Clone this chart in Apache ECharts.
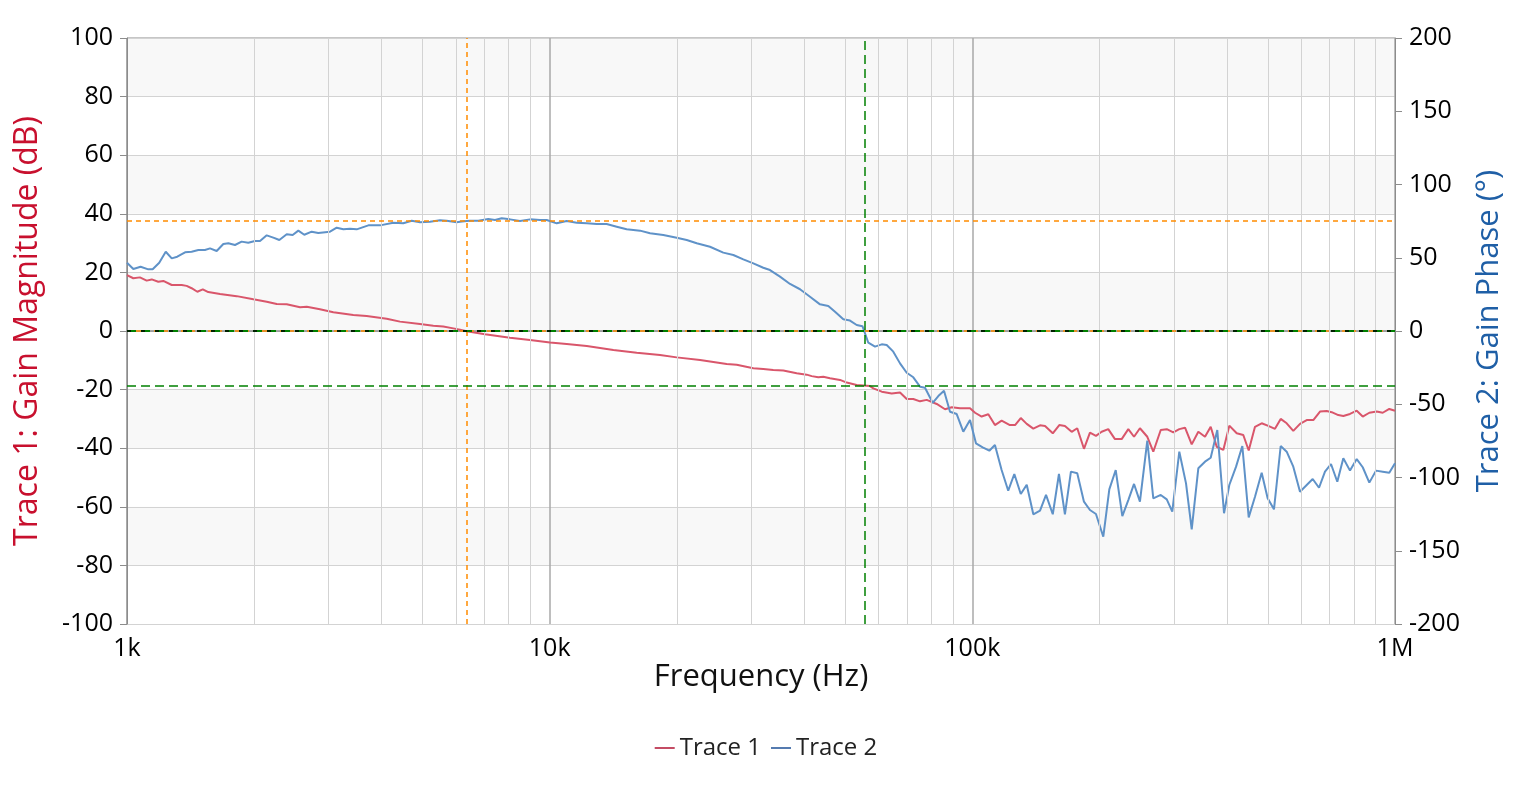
<!DOCTYPE html>
<html><head><meta charset="utf-8">
<script src="https://cdn.jsdelivr.net/npm/echarts@6/dist/echarts.min.js"></script>
<style>html,body{margin:0;padding:0;background:#fff}#chart{width:1532px;height:789px}</style>
</head><body><div id="chart"></div>
<script>
// ---- data ----
const gainFreqHz = [
 1000, 1035, 1073, 1113, 1144, 1186, 1219, 1276, 1347, 1384,
 1422, 1467, 1511, 1557, 1660, 1818, 1990, 2141, 2261, 2387,
 2567, 2663, 2861, 3077, 3431, 3690, 4116, 4425, 4934, 5305,
 5601, 5916, 6136, 6364, 7031, 8056, 8985, 10020, 10970, 12240,
 14150, 16070, 18240, 19980, 22690, 26230, 27700, 30330, 32020, 33810,
 35710, 38410, 40560, 41680, 43210, 44400, 46050, 48640, 50450, 53260,
 55210, 57270, 58310, 61050, 64450, 67440, 69940, 72500, 75200, 77980,
 82370, 86170, 89400, 93500, 98740, 101500, 105200, 109100, 113100, 117300,
 122700, 126200, 130200, 134500, 139400, 144600, 148600, 155000, 160600, 165600,
 171800, 177100, 183700, 189800, 196100, 202300, 209700, 217500, 225600, 233900,
 241300, 249200, 259400, 268000, 279100, 288400, 298900, 308800, 318600, 330400,
 342500, 355200, 366400, 378600, 392500, 405500, 422200, 437600, 450700, 466400,
 483700, 501400, 520000, 536500, 554300, 574600, 596000, 618200, 640800, 664600,
 689300, 708300, 734200, 754600, 782600, 811800, 838800, 869500, 905200, 935300,
 969400, 1000000
];
const gainDb = [
 19.1, 18.0, 18.3, 17.2, 17.6, 16.8, 17.1, 15.7, 15.7, 15.4,
 14.6, 13.4, 14.2, 13.3, 12.6, 11.9, 10.8, 10.0, 9.2, 9.1,
 8.1, 8.3, 7.4, 6.4, 5.5, 5.1, 4.2, 3.2, 2.4, 1.8,
 1.5, 0.9, 0.4, -0.1, -1.1, -2.3, -3.1, -3.9, -4.4, -5.1,
 -6.5, -7.4, -8.2, -9.0, -9.9, -11.3, -11.5, -12.7, -13.0, -13.3,
 -13.5, -14.4, -14.9, -15.4, -15.8, -15.6, -16.1, -16.7, -17.6, -18.4,
 -18.6, -18.8, -19.6, -20.7, -21.3, -21.0, -23.2, -23.2, -24.0, -23.5,
 -24.9, -26.7, -26.0, -26.4, -26.4, -27.9, -29.2, -28.4, -32.1, -30.6,
 -32.1, -32.1, -29.7, -31.7, -33.3, -32.2, -32.4, -34.9, -32.1, -32.4,
 -34.4, -33.2, -40.2, -34.7, -35.8, -34.4, -33.5, -36.9, -36.9, -33.5,
 -36.1, -33.2, -36.1, -41.2, -33.8, -33.5, -34.6, -33.5, -33.0, -38.7,
 -34.4, -36.1, -32.7, -39.5, -40.6, -32.3, -34.9, -35.5, -40.8, -32.7,
 -31.5, -32.4, -33.4, -30.0, -31.5, -34.1, -31.7, -30.4, -30.4, -27.5,
 -27.3, -27.7, -28.7, -29.0, -28.3, -27.2, -29.2, -27.9, -27.5, -27.9,
 -26.6, -27.2
];
const phaseFreqHz = [
 1000, 1035, 1077, 1123, 1150, 1192, 1235, 1276, 1315, 1372,
 1422, 1475, 1529, 1572, 1630, 1690, 1737, 1801, 1867, 1936,
 2008, 2064, 2141, 2219, 2293, 2387, 2466, 2543, 2627, 2735,
 2835, 3022, 3134, 3250, 3370, 3495, 3724, 3969, 4267, 4505,
 4716, 4934, 5211, 5502, 5705, 6026, 6136, 6364, 6479, 6780,
 7157, 7424, 7700, 8056, 8508, 8985, 9486, 9840, 10390, 10970,
 11590, 12240, 12920, 13640, 14410, 15210, 16360, 17280, 18570, 19980,
 21100, 22280, 23950, 25750, 27200, 28720, 30330, 32020, 33210, 35070,
 37040, 39110, 41300, 43610, 45630, 47330, 49520, 51350, 53260, 54960,
 56740, 58850, 61050, 62720, 65010, 67440, 69940, 72500, 75200, 77270,
 80580, 83090, 85700, 88560, 91840, 95190, 98740, 102000, 105800, 109700,
 113100, 117300, 121600, 125700, 130200, 134500, 139400, 144600, 149400, 155000,
 160300, 165600, 171100, 177100, 183700, 189800, 196100, 204100, 210900, 218400,
 226400, 233900, 241300, 249200, 259400, 268000, 279100, 288400, 297200, 308800,
 320300, 330400, 342500, 355200, 366400, 379800, 394000, 405500, 420700, 435300,
 450700, 466400, 483700, 499700, 517200, 536500, 554300, 574600, 596000, 618200,
 638700, 661000, 682900, 705600, 730300, 754600, 782600, 811800, 838800, 869500,
 901800, 935300, 969400, 1000000
];
const phaseDeg = [
 46.6, 42.3, 43.9, 42.1, 42.1, 46.6, 54.1, 49.6, 50.7, 53.7,
 54.1, 55.3, 55.3, 56.4, 54.6, 59.4, 59.9, 58.7, 61.0, 60.3,
 61.4, 61.4, 65.3, 63.7, 62.1, 66.0, 65.5, 68.5, 65.7, 67.8,
 66.9, 67.8, 70.5, 69.4, 69.8, 69.4, 72.1, 72.1, 73.9, 73.5,
 75.3, 74.2, 74.6, 75.6, 75.3, 74.2, 74.6, 75.1, 75.3, 75.3,
 76.5, 75.8, 76.9, 76.2, 75.1, 76.2, 75.8, 75.8, 73.5, 75.1,
 73.9, 73.5, 73.0, 73.0, 71.2, 69.4, 68.5, 66.7, 65.5, 63.7,
 62.1, 59.9, 57.5, 53.5, 51.9, 48.9, 46.2, 43.2, 41.6, 37.1,
 32.1, 28.5, 23.4, 18.2, 17.1, 13.2, 8.0, 7.1, 4.1, 3.3,
 -8.0, -10.7, -9.1, -9.6, -14.1, -22.1, -28.5, -31.6, -38.0, -38.7,
 -49.0, -44.4, -40.8, -55.1, -56.7, -68.7, -60.8, -76.7, -79.4, -81.7,
 -77.8, -94.9, -109.0, -97.6, -111.3, -104.9, -125.1, -122.6, -111.9, -125.1,
 -97.6, -125.1, -96.0, -97.1, -116.5, -122.2, -124.9, -140.4, -108.1, -94.9,
 -126.3, -115.4, -104.4, -116.5, -74.9, -114.2, -111.9, -114.9, -123.3, -82.4,
 -104.0, -135.4, -93.7, -89.2, -86.5, -67.6, -124.4, -105.1, -92.6, -78.5,
 -127.2, -113.1, -96.7, -114.2, -121.7, -78.5, -82.4, -92.6, -109.7, -105.1,
 -101.0, -107.0, -96.0, -90.8, -102.9, -86.9, -95.3, -87.4, -93.0, -103.5,
 -95.3, -96.0, -96.7, -90.3
];
// cursor markers
const gainCrossFreqHz = 6364;     // orange vertical (0 dB crossing)
const phaseAtGainCross = 75.4;    // orange horizontal (phase axis)
const phaseCrossFreqHz = 55500;   // green vertical (0 deg crossing)
const gainAtPhaseCross = -18.6;   // green horizontal (gain axis)
// axis ticks / labels
const freqTickLabels = {1000: '1k', 10000: '10k', 100000: '100k', 1000000: '1M'};
const minorGridFreqHz = [2000,3000,4000,5000,6000,7000,8000,9000,
  20000,30000,40000,50000,60000,70000,80000,90000,
  200000,300000,400000,500000,600000,700000,800000,900000];

// ---- chart ----
const FONT = '"Open Sans", "Noto Sans", "DejaVu Sans", sans-serif';
const pairs = (xs, ys) => xs.map((x, i) => [x, ys[i]]);
const chart = echarts.init(document.getElementById('chart'), null, {renderer: 'canvas'});
const orange = '#ff8c00', green = '#008000';
const option = {
  animation: false,
  textStyle: {fontFamily: FONT},
  grid: {left: 127, right: 137, top: 38, bottom: 165, show: true, borderColor: '#8c8c8c', borderWidth: 1},
  legend: {
    bottom: 24, left: 'center', itemWidth: 20, itemHeight: 1.5, itemGap: 10, icon: 'rect',
    textStyle: {fontSize: 24, color: '#222', fontFamily: FONT},
    data: [{name: 'Trace 1', itemStyle: {color: '#b01030'}}, {name: 'Trace 2', itemStyle: {color: '#1c4f96'}}]
  },
  xAxis: {
    type: 'log', logBase: 10, min: 1000, max: 1000000,
    name: 'Frequency (Hz)', nameLocation: 'middle', nameGap: 38, nameMoveOverlap: false,
    nameTextStyle: {fontSize: 31, color: '#111', fontFamily: FONT},
    axisLine: {show: true, lineStyle: {color: '#8c8c8c', width: 1.5}},
    axisTick: {show: false},
    axisLabel: {fontSize: 25, color: '#000', margin: 12, formatter: v => freqTickLabels[Math.round(v)] || ''},
    splitLine: {show: true, lineStyle: {color: '#a8a8a8', width: 1.5}}
  },
  yAxis: [{
    type: 'value', min: -100, max: 100, interval: 20, position: 'left',
    name: 'Trace 1: Gain Magnitude (dB)', nameLocation: 'middle', nameGap: 83,
    nameTextStyle: {fontSize: 32, color: '#c8102e', fontFamily: FONT},
    axisLine: {show: true, lineStyle: {color: '#8c8c8c'}},
    axisTick: {show: true, length: 7, lineStyle: {color: '#8c8c8c'}},
    axisLabel: {fontSize: 25, color: '#000', margin: 14},
    splitLine: {show: true, lineStyle: {color: '#d3d3d3'}},
    splitArea: {show: true, areaStyle: {color: ['#ffffff', '#f8f8f8']}}
  }, {
    type: 'value', min: -200, max: 200, interval: 50, position: 'right',
    name: 'Trace 2: Gain Phase (°)', nameLocation: 'middle', nameGap: 79,
    nameTextStyle: {fontSize: 31, color: '#1f5fa6', fontFamily: FONT},
    axisLine: {show: true, lineStyle: {color: '#8c8c8c'}},
    axisTick: {show: true, length: 7, lineStyle: {color: '#8c8c8c'}},
    axisLabel: {fontSize: 25, color: '#000', margin: 14},
    splitLine: {show: false}
  }],
  series: [
    {
      name: 'minor-grid', type: 'line', data: [], silent: true, z: 1,
      markLine: {silent: true, symbol: 'none', label: {show: false}, animation: false,
        lineStyle: {color: '#d3d3d3', width: 1, type: 'solid'},
        data: minorGridFreqHz.map(f => ({xAxis: f}))}
    },
    {
      name: 'Trace 1', type: 'line', yAxisIndex: 0, z: 3, showSymbol: false, symbol: 'none',
      data: pairs(gainFreqHz, gainDb),
      itemStyle: {color: '#b01030'},
      lineStyle: {color: '#d9566b', width: 2}
    },
    {
      name: 'Trace 2', type: 'line', yAxisIndex: 1, z: 3, showSymbol: false, symbol: 'none',
      data: pairs(phaseFreqHz, phaseDeg),
      itemStyle: {color: '#1c4f96'},
      lineStyle: {color: '#5f92c8', width: 2}
    },
    {
      name: 'markers-gain', type: 'line', yAxisIndex: 0, data: [], silent: true, z: 5,
      markLine: {silent: true, symbol: 'none', label: {show: false}, animation: false,
        data: [
          {xAxis: gainCrossFreqHz, lineStyle: {color: orange, width: 1.5, type: [5, 4]}},
          {yAxis: 0, lineStyle: {color: orange, width: 1.5, type: [5, 4]}},
          {xAxis: phaseCrossFreqHz, lineStyle: {color: green, width: 1.5, type: [9, 5]}},
          {yAxis: gainAtPhaseCross, lineStyle: {color: green, width: 1.5, type: [9, 5]}}
        ]}
    },
    {
      name: 'markers-phase', type: 'line', yAxisIndex: 1, data: [], silent: true, z: 6,
      markLine: {silent: true, symbol: 'none', label: {show: false}, animation: false,
        data: [
          {yAxis: phaseAtGainCross, lineStyle: {color: orange, width: 1.5, type: [5, 4]}},
          {yAxis: 0, lineStyle: {color: green, width: 2, type: [9, 5]}},
          {yAxis: 0, lineStyle: {color: '#000', width: 1.5, type: [4, 10]}}
        ]}
    }
  ]
};
chart.setOption(option);
</script></body></html>
